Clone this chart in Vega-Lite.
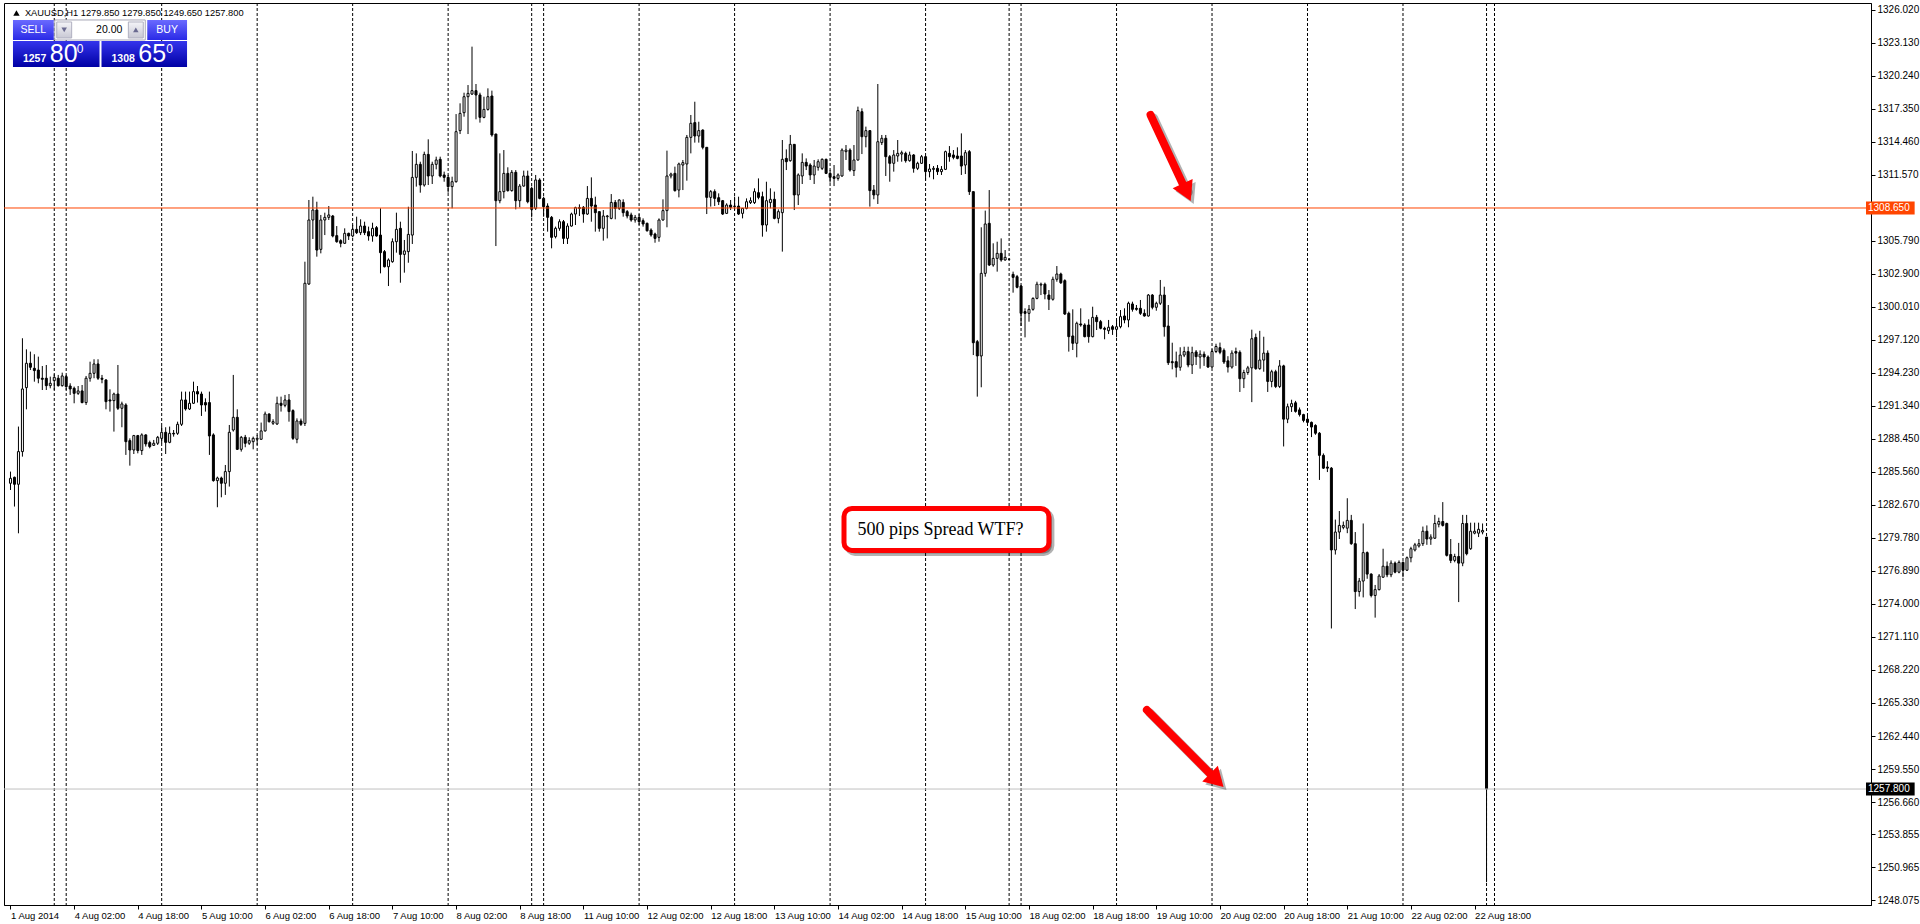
{
"$schema": "https://vega.github.io/schema/vega-lite/v6.json",
"width": 1867, "height": 902,
"autosize": {"type": "none"},
"padding": {"left": 4, "top": 3, "right": 49, "bottom": 19},
"background": "#ffffff",
"config": {"view": {"stroke": "#000000", "strokeWidth": 1}, "font": "Liberation Sans"},
"resolve": {"axis": {"x": "independent", "y": "independent"}},
"datasets": {
"seps": [{"s":11},{"s":14},{"s":38},{"s":62},{"s":86},{"s":110},{"s":131},{"s":134},{"s":158},{"s":182},{"s":206},{"s":230},{"s":251},{"s":254},{"s":278},{"s":302},{"s":326},{"s":350},{"s":371},{"s":373}],
"candles": [
{"i":0,"o":1284.56,"h":1285.58,"l":1283.97,"c":1284.99},
{"i":1,"o":1285.08,"h":1285.14,"l":1282.52,"c":1284.47},
{"i":2,"o":1284.47,"h":1289.52,"l":1280.18,"c":1287.33},
{"i":3,"o":1287.33,"h":1297.25,"l":1286.89,"c":1292.81},
{"i":4,"o":1292.93,"h":1296.28,"l":1291.03,"c":1295.06},
{"i":5,"o":1295.06,"h":1296.08,"l":1294.47,"c":1294.71},
{"i":6,"o":1294.62,"h":1295.85,"l":1293.45,"c":1294.42},
{"i":7,"o":1294.47,"h":1295.64,"l":1293.31,"c":1293.75},
{"i":8,"o":1293.75,"h":1294.82,"l":1292.72,"c":1293.66},
{"i":9,"o":1293.75,"h":1294.91,"l":1292.72,"c":1293.10},
{"i":10,"o":1293.10,"h":1293.89,"l":1292.87,"c":1293.31},
{"i":11,"o":1293.54,"h":1294.10,"l":1292.72,"c":1293.83},
{"i":12,"o":1293.75,"h":1294.04,"l":1293.02,"c":1293.10},
{"i":13,"o":1293.10,"h":1294.24,"l":1293.02,"c":1293.95},
{"i":14,"o":1293.89,"h":1294.04,"l":1292.72,"c":1293.02},
{"i":15,"o":1293.07,"h":1293.31,"l":1292.29,"c":1292.81},
{"i":16,"o":1292.87,"h":1293.02,"l":1291.56,"c":1292.43},
{"i":17,"o":1292.43,"h":1293.07,"l":1292.29,"c":1292.64},
{"i":18,"o":1292.64,"h":1293.16,"l":1291.56,"c":1291.62},
{"i":19,"o":1291.62,"h":1293.95,"l":1291.41,"c":1293.75},
{"i":20,"o":1293.75,"h":1295.20,"l":1293.45,"c":1294.18},
{"i":21,"o":1294.18,"h":1295.41,"l":1293.75,"c":1295.00},
{"i":22,"o":1295.00,"h":1295.41,"l":1293.60,"c":1293.75},
{"i":23,"o":1293.75,"h":1294.04,"l":1293.31,"c":1293.66},
{"i":24,"o":1293.60,"h":1293.66,"l":1291.03,"c":1291.70},
{"i":25,"o":1291.85,"h":1292.78,"l":1290.83,"c":1291.76},
{"i":26,"o":1291.79,"h":1292.49,"l":1289.08,"c":1292.37},
{"i":27,"o":1292.37,"h":1294.91,"l":1290.97,"c":1291.12},
{"i":28,"o":1291.12,"h":1291.70,"l":1289.46,"c":1291.50},
{"i":29,"o":1291.41,"h":1291.56,"l":1287.04,"c":1288.20},
{"i":30,"o":1288.29,"h":1288.49,"l":1286.10,"c":1287.47},
{"i":31,"o":1287.47,"h":1288.79,"l":1287.12,"c":1288.73},
{"i":32,"o":1288.73,"h":1288.79,"l":1287.18,"c":1287.42},
{"i":33,"o":1287.42,"h":1288.93,"l":1287.04,"c":1288.79},
{"i":34,"o":1288.79,"h":1288.84,"l":1287.77,"c":1288.00},
{"i":35,"o":1288.12,"h":1288.29,"l":1287.62,"c":1287.77},
{"i":36,"o":1287.88,"h":1288.35,"l":1287.82,"c":1288.06},
{"i":37,"o":1288.06,"h":1288.70,"l":1287.91,"c":1288.58},
{"i":38,"o":1288.49,"h":1289.57,"l":1288.06,"c":1289.02},
{"i":39,"o":1289.02,"h":1289.46,"l":1287.12,"c":1288.14},
{"i":40,"o":1288.14,"h":1289.52,"l":1288.06,"c":1288.93},
{"i":41,"o":1288.93,"h":1289.22,"l":1288.64,"c":1288.87},
{"i":42,"o":1288.93,"h":1289.95,"l":1288.79,"c":1289.72},
{"i":43,"o":1289.72,"h":1292.58,"l":1289.57,"c":1291.85},
{"i":44,"o":1291.85,"h":1292.58,"l":1290.92,"c":1291.06},
{"i":45,"o":1291.06,"h":1292.58,"l":1290.97,"c":1291.56},
{"i":46,"o":1291.56,"h":1293.45,"l":1291.50,"c":1292.58},
{"i":47,"o":1292.58,"h":1293.07,"l":1291.62,"c":1292.37},
{"i":48,"o":1292.37,"h":1292.58,"l":1290.45,"c":1291.41},
{"i":49,"o":1291.62,"h":1291.99,"l":1290.83,"c":1291.41},
{"i":50,"o":1291.62,"h":1292.58,"l":1287.04,"c":1288.70},
{"i":51,"o":1288.79,"h":1288.93,"l":1284.70,"c":1284.79},
{"i":52,"o":1284.79,"h":1285.14,"l":1282.46,"c":1285.02},
{"i":53,"o":1285.02,"h":1285.14,"l":1283.33,"c":1284.56},
{"i":54,"o":1284.56,"h":1286.16,"l":1283.54,"c":1285.58},
{"i":55,"o":1285.58,"h":1289.66,"l":1284.27,"c":1289.02},
{"i":56,"o":1289.22,"h":1294.04,"l":1289.08,"c":1290.33},
{"i":57,"o":1290.33,"h":1291.03,"l":1287.47,"c":1287.53},
{"i":58,"o":1287.53,"h":1288.70,"l":1287.33,"c":1288.58},
{"i":59,"o":1288.58,"h":1288.79,"l":1287.71,"c":1288.06},
{"i":60,"o":1288.06,"h":1288.58,"l":1287.91,"c":1288.29},
{"i":61,"o":1288.20,"h":1288.64,"l":1287.53,"c":1288.49},
{"i":62,"o":1288.41,"h":1288.79,"l":1287.91,"c":1288.49},
{"i":63,"o":1288.41,"h":1289.87,"l":1288.35,"c":1289.14},
{"i":64,"o":1289.14,"h":1290.83,"l":1289.08,"c":1290.62},
{"i":65,"o":1290.62,"h":1290.68,"l":1289.87,"c":1289.95},
{"i":66,"o":1289.81,"h":1290.16,"l":1289.66,"c":1289.95},
{"i":67,"o":1289.75,"h":1292.14,"l":1289.66,"c":1291.56},
{"i":68,"o":1291.56,"h":1292.14,"l":1290.83,"c":1291.38},
{"i":69,"o":1291.38,"h":1292.29,"l":1291.21,"c":1291.85},
{"i":70,"o":1291.85,"h":1292.37,"l":1289.95,"c":1290.83},
{"i":71,"o":1290.92,"h":1291.03,"l":1288.35,"c":1288.49},
{"i":72,"o":1288.41,"h":1290.24,"l":1288.06,"c":1290.01},
{"i":73,"o":1290.01,"h":1290.22,"l":1289.57,"c":1289.72},
{"i":74,"o":1289.80,"h":1303.95,"l":1289.57,"c":1302.06},
{"i":75,"o":1302.00,"h":1309.35,"l":1301.91,"c":1307.60},
{"i":76,"o":1307.60,"h":1309.64,"l":1305.94,"c":1308.47},
{"i":77,"o":1308.47,"h":1309.20,"l":1304.39,"c":1304.97},
{"i":78,"o":1305.03,"h":1308.04,"l":1304.68,"c":1307.60},
{"i":79,"o":1307.60,"h":1308.24,"l":1306.28,"c":1307.83},
{"i":80,"o":1307.83,"h":1308.82,"l":1307.60,"c":1308.04},
{"i":81,"o":1307.95,"h":1308.04,"l":1306.08,"c":1306.20},
{"i":82,"o":1306.23,"h":1307.07,"l":1305.61,"c":1305.70},
{"i":83,"o":1305.79,"h":1305.91,"l":1305.21,"c":1305.56},
{"i":84,"o":1305.56,"h":1306.87,"l":1305.50,"c":1306.43},
{"i":85,"o":1306.43,"h":1306.49,"l":1305.85,"c":1306.20},
{"i":86,"o":1306.20,"h":1307.16,"l":1306.08,"c":1306.78},
{"i":87,"o":1306.78,"h":1307.89,"l":1306.37,"c":1306.49},
{"i":88,"o":1306.49,"h":1307.66,"l":1306.28,"c":1307.07},
{"i":89,"o":1307.07,"h":1307.45,"l":1306.28,"c":1306.49},
{"i":90,"o":1306.58,"h":1307.02,"l":1305.79,"c":1306.20},
{"i":91,"o":1306.20,"h":1307.36,"l":1305.70,"c":1306.87},
{"i":92,"o":1306.93,"h":1307.07,"l":1306.14,"c":1306.20},
{"i":93,"o":1306.28,"h":1308.62,"l":1302.93,"c":1304.74},
{"i":94,"o":1304.83,"h":1304.97,"l":1303.45,"c":1303.51},
{"i":95,"o":1303.51,"h":1304.24,"l":1301.82,"c":1304.10},
{"i":96,"o":1303.95,"h":1305.99,"l":1303.86,"c":1305.70},
{"i":97,"o":1305.70,"h":1308.24,"l":1304.74,"c":1306.78},
{"i":98,"o":1306.87,"h":1307.45,"l":1302.11,"c":1304.59},
{"i":99,"o":1304.59,"h":1305.85,"l":1302.99,"c":1304.89},
{"i":100,"o":1304.83,"h":1308.76,"l":1303.86,"c":1306.34},
{"i":101,"o":1306.28,"h":1313.64,"l":1305.50,"c":1311.33},
{"i":102,"o":1311.33,"h":1313.43,"l":1310.52,"c":1312.47},
{"i":103,"o":1312.47,"h":1312.70,"l":1309.99,"c":1310.66},
{"i":104,"o":1310.66,"h":1313.58,"l":1310.52,"c":1313.34},
{"i":105,"o":1313.34,"h":1314.66,"l":1310.66,"c":1311.45},
{"i":106,"o":1311.45,"h":1312.70,"l":1310.75,"c":1312.47},
{"i":107,"o":1312.47,"h":1313.14,"l":1312.03,"c":1312.85},
{"i":108,"o":1312.91,"h":1313.14,"l":1311.33,"c":1311.45},
{"i":109,"o":1311.54,"h":1311.83,"l":1310.95,"c":1311.33},
{"i":110,"o":1311.33,"h":1311.54,"l":1309.99,"c":1310.52},
{"i":111,"o":1310.52,"h":1311.39,"l":1308.62,"c":1310.95},
{"i":112,"o":1310.95,"h":1316.87,"l":1310.87,"c":1315.33},
{"i":113,"o":1315.42,"h":1317.81,"l":1315.12,"c":1316.93},
{"i":114,"o":1316.99,"h":1318.74,"l":1316.64,"c":1318.39},
{"i":115,"o":1318.39,"h":1319.41,"l":1315.12,"c":1318.68},
{"i":116,"o":1318.62,"h":1322.77,"l":1318.55,"c":1318.92},
{"i":117,"o":1318.92,"h":1319.50,"l":1316.41,"c":1318.54},
{"i":118,"o":1318.54,"h":1318.74,"l":1316.12,"c":1316.58},
{"i":119,"o":1316.58,"h":1318.39,"l":1316.50,"c":1317.28},
{"i":120,"o":1317.28,"h":1319.12,"l":1317.17,"c":1318.39},
{"i":121,"o":1318.45,"h":1318.92,"l":1314.89,"c":1315.04},
{"i":122,"o":1315.12,"h":1315.15,"l":1305.32,"c":1309.29},
{"i":123,"o":1309.29,"h":1313.43,"l":1309.06,"c":1310.08},
{"i":124,"o":1310.08,"h":1313.72,"l":1309.49,"c":1311.68},
{"i":125,"o":1311.68,"h":1312.21,"l":1310.08,"c":1310.17},
{"i":126,"o":1310.17,"h":1311.97,"l":1310.08,"c":1311.77},
{"i":127,"o":1311.77,"h":1311.97,"l":1308.53,"c":1309.29},
{"i":128,"o":1309.29,"h":1310.75,"l":1308.71,"c":1310.57},
{"i":129,"o":1310.57,"h":1311.92,"l":1310.52,"c":1311.45},
{"i":130,"o":1311.45,"h":1311.92,"l":1309.06,"c":1309.20},
{"i":131,"o":1310.37,"h":1310.52,"l":1307.83,"c":1308.53},
{"i":132,"o":1308.62,"h":1311.54,"l":1308.47,"c":1311.10},
{"i":133,"o":1311.10,"h":1311.25,"l":1309.41,"c":1309.49},
{"i":134,"o":1309.49,"h":1309.64,"l":1307.89,"c":1308.76},
{"i":135,"o":1308.82,"h":1309.06,"l":1306.58,"c":1307.83},
{"i":136,"o":1307.83,"h":1307.95,"l":1305.12,"c":1306.08},
{"i":137,"o":1306.14,"h":1307.02,"l":1305.99,"c":1306.87},
{"i":138,"o":1306.87,"h":1307.66,"l":1306.66,"c":1307.45},
{"i":139,"o":1307.45,"h":1307.60,"l":1305.50,"c":1305.99},
{"i":140,"o":1305.99,"h":1307.31,"l":1305.50,"c":1307.07},
{"i":141,"o":1307.07,"h":1308.24,"l":1307.02,"c":1308.12},
{"i":142,"o":1308.12,"h":1308.76,"l":1307.16,"c":1308.68},
{"i":143,"o":1308.68,"h":1308.97,"l":1307.95,"c":1308.62},
{"i":144,"o":1308.71,"h":1308.82,"l":1307.36,"c":1308.12},
{"i":145,"o":1308.12,"h":1310.57,"l":1308.04,"c":1309.49},
{"i":146,"o":1309.49,"h":1311.33,"l":1307.45,"c":1308.82},
{"i":147,"o":1308.91,"h":1309.64,"l":1306.58,"c":1308.24},
{"i":148,"o":1308.33,"h":1308.33,"l":1306.58,"c":1306.87},
{"i":149,"o":1306.87,"h":1308.47,"l":1305.79,"c":1307.95},
{"i":150,"o":1307.89,"h":1308.04,"l":1305.99,"c":1307.95},
{"i":151,"o":1307.74,"h":1309.87,"l":1307.66,"c":1309.14},
{"i":152,"o":1309.14,"h":1309.35,"l":1307.66,"c":1308.62},
{"i":153,"o":1308.62,"h":1309.41,"l":1308.47,"c":1309.35},
{"i":154,"o":1309.14,"h":1309.41,"l":1307.89,"c":1308.24},
{"i":155,"o":1308.33,"h":1308.47,"l":1307.74,"c":1307.95},
{"i":156,"o":1308.04,"h":1308.24,"l":1307.45,"c":1307.60},
{"i":157,"o":1307.60,"h":1308.04,"l":1307.37,"c":1307.83},
{"i":158,"o":1307.83,"h":1308.12,"l":1307.16,"c":1307.45},
{"i":159,"o":1307.54,"h":1307.74,"l":1307.02,"c":1307.25},
{"i":160,"o":1307.31,"h":1307.37,"l":1306.58,"c":1306.66},
{"i":161,"o":1306.72,"h":1306.87,"l":1306.14,"c":1306.29},
{"i":162,"o":1306.37,"h":1306.49,"l":1305.61,"c":1305.99},
{"i":163,"o":1306.08,"h":1307.74,"l":1305.70,"c":1307.60},
{"i":164,"o":1307.60,"h":1309.41,"l":1307.54,"c":1308.42},
{"i":165,"o":1308.42,"h":1313.67,"l":1306.96,"c":1311.45},
{"i":166,"o":1311.45,"h":1311.74,"l":1311.24,"c":1311.62},
{"i":167,"o":1311.68,"h":1312.27,"l":1310.08,"c":1310.17},
{"i":168,"o":1310.22,"h":1312.62,"l":1309.58,"c":1312.50},
{"i":169,"o":1312.41,"h":1312.85,"l":1310.22,"c":1312.62},
{"i":170,"o":1312.50,"h":1315.04,"l":1311.04,"c":1314.83},
{"i":171,"o":1314.83,"h":1316.79,"l":1313.43,"c":1316.06},
{"i":172,"o":1316.12,"h":1317.95,"l":1314.37,"c":1314.95},
{"i":173,"o":1314.95,"h":1316.20,"l":1314.37,"c":1315.42},
{"i":174,"o":1315.47,"h":1315.53,"l":1313.78,"c":1313.96},
{"i":175,"o":1313.96,"h":1313.96,"l":1308.12,"c":1309.58},
{"i":176,"o":1309.58,"h":1310.22,"l":1308.77,"c":1310.08},
{"i":177,"o":1310.08,"h":1310.28,"l":1308.82,"c":1309.49},
{"i":178,"o":1309.55,"h":1309.93,"l":1308.91,"c":1309.20},
{"i":179,"o":1309.29,"h":1309.35,"l":1308.04,"c":1308.12},
{"i":180,"o":1308.18,"h":1309.06,"l":1308.12,"c":1308.91},
{"i":181,"o":1308.91,"h":1309.35,"l":1308.47,"c":1308.71},
{"i":182,"o":1308.77,"h":1309.64,"l":1308.47,"c":1308.82},
{"i":183,"o":1308.82,"h":1309.64,"l":1308.04,"c":1308.12},
{"i":184,"o":1308.18,"h":1308.62,"l":1307.74,"c":1308.62},
{"i":185,"o":1308.62,"h":1309.49,"l":1308.53,"c":1309.20},
{"i":186,"o":1309.12,"h":1309.58,"l":1309.00,"c":1309.29},
{"i":187,"o":1309.12,"h":1310.37,"l":1309.00,"c":1310.08},
{"i":188,"o":1309.99,"h":1311.24,"l":1309.41,"c":1309.58},
{"i":189,"o":1309.64,"h":1310.08,"l":1306.14,"c":1307.16},
{"i":190,"o":1307.16,"h":1310.95,"l":1306.58,"c":1309.29},
{"i":191,"o":1309.12,"h":1310.37,"l":1308.62,"c":1309.41},
{"i":192,"o":1309.41,"h":1310.08,"l":1307.66,"c":1307.74},
{"i":193,"o":1307.74,"h":1308.53,"l":1307.31,"c":1308.33},
{"i":194,"o":1308.24,"h":1314.60,"l":1304.83,"c":1312.91},
{"i":195,"o":1312.99,"h":1313.78,"l":1311.97,"c":1312.70},
{"i":196,"o":1312.79,"h":1315.04,"l":1312.70,"c":1314.22},
{"i":197,"o":1314.22,"h":1314.22,"l":1308.47,"c":1309.79},
{"i":198,"o":1309.79,"h":1311.68,"l":1308.91,"c":1311.54},
{"i":199,"o":1311.45,"h":1313.43,"l":1310.75,"c":1312.64},
{"i":200,"o":1312.64,"h":1312.99,"l":1311.97,"c":1312.32},
{"i":201,"o":1312.41,"h":1312.56,"l":1311.10,"c":1311.54},
{"i":202,"o":1311.54,"h":1312.85,"l":1310.75,"c":1312.32},
{"i":203,"o":1312.21,"h":1312.91,"l":1311.92,"c":1312.70},
{"i":204,"o":1312.12,"h":1312.99,"l":1311.97,"c":1312.91},
{"i":205,"o":1312.91,"h":1312.97,"l":1311.62,"c":1311.68},
{"i":206,"o":1311.68,"h":1311.97,"l":1310.87,"c":1311.33},
{"i":207,"o":1311.39,"h":1312.41,"l":1310.57,"c":1311.24},
{"i":208,"o":1311.24,"h":1311.68,"l":1311.04,"c":1311.54},
{"i":209,"o":1311.45,"h":1313.87,"l":1311.39,"c":1313.72},
{"i":210,"o":1313.58,"h":1314.16,"l":1312.85,"c":1313.72},
{"i":211,"o":1313.72,"h":1313.87,"l":1311.83,"c":1311.97},
{"i":212,"o":1311.92,"h":1314.16,"l":1311.45,"c":1312.85},
{"i":213,"o":1312.85,"h":1317.52,"l":1312.79,"c":1317.17},
{"i":214,"o":1317.08,"h":1317.37,"l":1313.37,"c":1314.89},
{"i":215,"o":1314.89,"h":1315.77,"l":1313.96,"c":1315.42},
{"i":216,"o":1315.42,"h":1315.47,"l":1308.77,"c":1310.17},
{"i":217,"o":1310.22,"h":1310.66,"l":1309.41,"c":1309.79},
{"i":218,"o":1309.79,"h":1319.50,"l":1309.00,"c":1314.45},
{"i":219,"o":1314.37,"h":1315.04,"l":1314.16,"c":1314.75},
{"i":220,"o":1314.75,"h":1315.04,"l":1311.45,"c":1313.14},
{"i":221,"o":1313.14,"h":1313.29,"l":1310.95,"c":1312.56},
{"i":222,"o":1312.56,"h":1313.72,"l":1311.83,"c":1313.29},
{"i":223,"o":1313.20,"h":1314.60,"l":1312.70,"c":1313.43},
{"i":224,"o":1313.37,"h":1313.67,"l":1312.70,"c":1313.49},
{"i":225,"o":1313.43,"h":1313.58,"l":1312.62,"c":1312.79},
{"i":226,"o":1312.79,"h":1313.58,"l":1312.70,"c":1313.29},
{"i":227,"o":1313.29,"h":1313.37,"l":1311.74,"c":1312.12},
{"i":228,"o":1312.12,"h":1312.70,"l":1311.97,"c":1312.56},
{"i":229,"o":1312.56,"h":1313.29,"l":1312.50,"c":1313.14},
{"i":230,"o":1313.14,"h":1313.20,"l":1311.04,"c":1311.83},
{"i":231,"o":1311.83,"h":1312.50,"l":1311.33,"c":1312.06},
{"i":232,"o":1312.03,"h":1312.32,"l":1311.16,"c":1312.12},
{"i":233,"o":1312.12,"h":1312.41,"l":1311.54,"c":1311.83},
{"i":234,"o":1311.83,"h":1312.32,"l":1311.54,"c":1312.03},
{"i":235,"o":1312.03,"h":1313.67,"l":1311.97,"c":1313.58},
{"i":236,"o":1313.43,"h":1314.07,"l":1312.70,"c":1313.14},
{"i":237,"o":1313.29,"h":1313.72,"l":1312.91,"c":1313.08},
{"i":238,"o":1313.20,"h":1313.96,"l":1312.91,"c":1312.99},
{"i":239,"o":1313.20,"h":1315.18,"l":1311.54,"c":1312.32},
{"i":240,"o":1312.41,"h":1313.72,"l":1311.62,"c":1313.49},
{"i":241,"o":1313.58,"h":1313.72,"l":1309.79,"c":1310.08},
{"i":242,"o":1310.08,"h":1310.08,"l":1295.78,"c":1296.86},
{"i":243,"o":1296.95,"h":1297.10,"l":1292.14,"c":1295.70},
{"i":244,"o":1295.70,"h":1306.96,"l":1292.96,"c":1302.93},
{"i":245,"o":1302.93,"h":1308.42,"l":1302.64,"c":1307.25},
{"i":246,"o":1307.31,"h":1310.22,"l":1303.57,"c":1303.66},
{"i":247,"o":1303.66,"h":1305.56,"l":1303.51,"c":1304.24},
{"i":248,"o":1304.24,"h":1305.70,"l":1303.08,"c":1304.68},
{"i":249,"o":1304.68,"h":1305.99,"l":1303.95,"c":1304.10},
{"i":250,"o":1304.10,"h":1304.97,"l":1304.04,"c":1304.33},
{"i":251,"o":1304.16,"h":1304.25,"l":1304.10,"c":1304.16},
{"i":252,"o":1302.84,"h":1303.08,"l":1301.24,"c":1302.58},
{"i":253,"o":1302.64,"h":1302.79,"l":1301.62,"c":1301.71},
{"i":254,"o":1301.82,"h":1301.91,"l":1298.32,"c":1299.43},
{"i":255,"o":1299.58,"h":1299.87,"l":1297.33,"c":1299.43},
{"i":256,"o":1299.43,"h":1300.16,"l":1298.70,"c":1299.78},
{"i":257,"o":1299.78,"h":1300.83,"l":1299.66,"c":1300.74},
{"i":258,"o":1300.74,"h":1302.20,"l":1300.66,"c":1301.98},
{"i":259,"o":1301.91,"h":1302.12,"l":1301.03,"c":1301.98},
{"i":260,"o":1301.98,"h":1302.12,"l":1300.66,"c":1301.12},
{"i":261,"o":1301.03,"h":1301.47,"l":1299.72,"c":1300.66},
{"i":262,"o":1300.66,"h":1302.64,"l":1300.54,"c":1302.41},
{"i":263,"o":1302.41,"h":1303.57,"l":1302.20,"c":1302.87},
{"i":264,"o":1302.87,"h":1302.99,"l":1302.00,"c":1302.11},
{"i":265,"o":1302.29,"h":1302.41,"l":1299.29,"c":1299.37},
{"i":266,"o":1299.43,"h":1299.58,"l":1296.08,"c":1297.39},
{"i":267,"o":1297.45,"h":1299.78,"l":1296.22,"c":1296.81},
{"i":268,"o":1296.81,"h":1298.70,"l":1295.58,"c":1298.56},
{"i":269,"o":1298.50,"h":1299.87,"l":1298.26,"c":1298.41},
{"i":270,"o":1298.41,"h":1298.56,"l":1297.33,"c":1297.39},
{"i":271,"o":1298.41,"h":1298.91,"l":1296.86,"c":1297.39},
{"i":272,"o":1297.39,"h":1300.01,"l":1297.33,"c":1299.08},
{"i":273,"o":1299.08,"h":1299.29,"l":1297.97,"c":1298.70},
{"i":274,"o":1298.70,"h":1298.85,"l":1298.03,"c":1298.12},
{"i":275,"o":1298.12,"h":1298.26,"l":1297.16,"c":1298.03},
{"i":276,"o":1297.91,"h":1298.85,"l":1297.62,"c":1298.21},
{"i":277,"o":1298.26,"h":1298.41,"l":1297.54,"c":1298.03},
{"i":278,"o":1298.03,"h":1298.85,"l":1297.33,"c":1298.26},
{"i":279,"o":1298.26,"h":1299.72,"l":1298.12,"c":1299.14},
{"i":280,"o":1299.20,"h":1299.87,"l":1298.56,"c":1298.85},
{"i":281,"o":1298.85,"h":1300.45,"l":1298.21,"c":1300.31},
{"i":282,"o":1300.25,"h":1300.45,"l":1299.58,"c":1299.78},
{"i":283,"o":1299.87,"h":1300.16,"l":1299.66,"c":1299.78},
{"i":284,"o":1299.87,"h":1300.60,"l":1299.29,"c":1299.43},
{"i":285,"o":1299.43,"h":1299.78,"l":1299.14,"c":1299.20},
{"i":286,"o":1299.20,"h":1301.12,"l":1299.14,"c":1301.03},
{"i":287,"o":1301.03,"h":1301.12,"l":1299.78,"c":1299.96},
{"i":288,"o":1299.96,"h":1300.45,"l":1299.66,"c":1300.31},
{"i":289,"o":1300.31,"h":1302.35,"l":1300.16,"c":1301.03},
{"i":290,"o":1301.03,"h":1301.76,"l":1297.39,"c":1298.26},
{"i":291,"o":1298.32,"h":1300.16,"l":1294.91,"c":1295.11},
{"i":292,"o":1295.20,"h":1296.86,"l":1294.53,"c":1295.11},
{"i":293,"o":1295.20,"h":1296.08,"l":1293.83,"c":1294.71},
{"i":294,"o":1294.71,"h":1296.46,"l":1294.41,"c":1295.78},
{"i":295,"o":1295.78,"h":1296.51,"l":1295.60,"c":1296.08},
{"i":296,"o":1296.08,"h":1296.51,"l":1294.71,"c":1294.91},
{"i":297,"o":1294.91,"h":1296.51,"l":1294.12,"c":1295.99},
{"i":298,"o":1296.05,"h":1296.22,"l":1294.91,"c":1295.64},
{"i":299,"o":1295.61,"h":1296.19,"l":1294.59,"c":1295.85},
{"i":300,"o":1295.85,"h":1296.09,"l":1294.83,"c":1295.61},
{"i":301,"o":1295.61,"h":1295.75,"l":1294.66,"c":1294.73},
{"i":302,"o":1294.73,"h":1296.29,"l":1294.66,"c":1296.09},
{"i":303,"o":1296.09,"h":1296.77,"l":1295.95,"c":1296.53},
{"i":304,"o":1296.43,"h":1296.87,"l":1295.85,"c":1296.02},
{"i":305,"o":1296.19,"h":1296.36,"l":1295.00,"c":1295.17},
{"i":306,"o":1295.27,"h":1295.68,"l":1294.25,"c":1294.73},
{"i":307,"o":1294.73,"h":1296.19,"l":1294.59,"c":1295.95},
{"i":308,"o":1296.09,"h":1296.43,"l":1294.83,"c":1295.95},
{"i":309,"o":1296.02,"h":1296.19,"l":1292.55,"c":1293.71},
{"i":310,"o":1293.71,"h":1294.49,"l":1292.89,"c":1294.25},
{"i":311,"o":1294.25,"h":1294.83,"l":1294.05,"c":1294.66},
{"i":312,"o":1294.66,"h":1298.00,"l":1291.66,"c":1297.21},
{"i":313,"o":1297.32,"h":1297.66,"l":1294.49,"c":1294.59},
{"i":314,"o":1294.59,"h":1297.90,"l":1294.49,"c":1295.34},
{"i":315,"o":1295.34,"h":1297.38,"l":1294.32,"c":1295.95},
{"i":316,"o":1295.95,"h":1296.19,"l":1292.55,"c":1293.47},
{"i":317,"o":1293.47,"h":1294.49,"l":1292.96,"c":1294.32},
{"i":318,"o":1294.32,"h":1294.49,"l":1292.89,"c":1293.03},
{"i":319,"o":1293.03,"h":1295.34,"l":1292.89,"c":1294.83},
{"i":320,"o":1294.83,"h":1294.93,"l":1287.78,"c":1290.17},
{"i":321,"o":1290.17,"h":1291.53,"l":1289.82,"c":1291.26},
{"i":322,"o":1291.26,"h":1291.87,"l":1290.80,"c":1291.53},
{"i":323,"o":1291.60,"h":1291.77,"l":1290.74,"c":1290.85},
{"i":324,"o":1290.98,"h":1291.19,"l":1290.40,"c":1290.57},
{"i":325,"o":1290.57,"h":1290.64,"l":1289.89,"c":1290.06},
{"i":326,"o":1290.17,"h":1290.51,"l":1289.72,"c":1289.89},
{"i":327,"o":1289.89,"h":1289.96,"l":1288.60,"c":1289.48},
{"i":328,"o":1289.62,"h":1289.72,"l":1288.80,"c":1288.94},
{"i":329,"o":1288.94,"h":1289.04,"l":1284.85,"c":1287.00},
{"i":330,"o":1287.00,"h":1287.17,"l":1285.81,"c":1285.88},
{"i":331,"o":1285.98,"h":1286.49,"l":1285.54,"c":1285.88},
{"i":332,"o":1285.88,"h":1285.98,"l":1271.85,"c":1278.72},
{"i":333,"o":1278.72,"h":1281.38,"l":1278.32,"c":1280.29},
{"i":334,"o":1280.29,"h":1282.13,"l":1279.68,"c":1280.87},
{"i":335,"o":1280.70,"h":1281.21,"l":1280.53,"c":1280.87},
{"i":336,"o":1280.63,"h":1283.25,"l":1280.19,"c":1281.31},
{"i":337,"o":1281.31,"h":1281.79,"l":1279.17,"c":1279.27},
{"i":338,"o":1279.27,"h":1280.29,"l":1273.55,"c":1275.08},
{"i":339,"o":1275.08,"h":1276.27,"l":1274.64,"c":1276.00},
{"i":340,"o":1276.00,"h":1281.04,"l":1274.57,"c":1278.49},
{"i":341,"o":1278.49,"h":1278.59,"l":1276.20,"c":1276.61},
{"i":342,"o":1276.61,"h":1276.68,"l":1274.57,"c":1274.74},
{"i":343,"o":1274.74,"h":1275.66,"l":1272.80,"c":1275.25},
{"i":344,"o":1275.25,"h":1276.61,"l":1275.18,"c":1276.44},
{"i":345,"o":1276.34,"h":1278.83,"l":1276.27,"c":1277.30},
{"i":346,"o":1277.30,"h":1277.71,"l":1276.34,"c":1276.55},
{"i":347,"o":1276.55,"h":1277.81,"l":1276.34,"c":1277.57},
{"i":348,"o":1277.57,"h":1277.71,"l":1276.68,"c":1276.78},
{"i":349,"o":1276.78,"h":1277.81,"l":1276.68,"c":1277.64},
{"i":350,"o":1277.64,"h":1277.71,"l":1276.34,"c":1276.95},
{"i":351,"o":1276.95,"h":1278.15,"l":1276.88,"c":1278.04},
{"i":352,"o":1278.04,"h":1279.00,"l":1277.64,"c":1278.83},
{"i":353,"o":1278.72,"h":1279.34,"l":1278.59,"c":1279.17},
{"i":354,"o":1279.07,"h":1279.68,"l":1278.93,"c":1279.27},
{"i":355,"o":1279.27,"h":1280.77,"l":1279.07,"c":1280.36},
{"i":356,"o":1280.36,"h":1280.87,"l":1279.17,"c":1279.68},
{"i":357,"o":1279.68,"h":1280.09,"l":1279.17,"c":1279.85},
{"i":358,"o":1279.75,"h":1281.79,"l":1279.68,"c":1281.04},
{"i":359,"o":1280.97,"h":1281.55,"l":1280.70,"c":1281.21},
{"i":360,"o":1281.21,"h":1282.91,"l":1280.77,"c":1280.87},
{"i":361,"o":1281.04,"h":1281.11,"l":1278.15,"c":1278.25},
{"i":362,"o":1278.32,"h":1279.68,"l":1277.57,"c":1277.81},
{"i":363,"o":1277.81,"h":1278.39,"l":1277.64,"c":1278.15},
{"i":364,"o":1278.15,"h":1279.34,"l":1274.16,"c":1277.57},
{"i":365,"o":1277.57,"h":1281.79,"l":1277.30,"c":1281.04},
{"i":366,"o":1281.04,"h":1281.79,"l":1278.25,"c":1278.39},
{"i":367,"o":1278.83,"h":1281.11,"l":1278.73,"c":1280.36},
{"i":368,"o":1280.19,"h":1281.11,"l":1280.09,"c":1280.36},
{"i":369,"o":1280.19,"h":1281.11,"l":1279.85,"c":1280.53},
{"i":370,"o":1280.29,"h":1281.04,"l":1280.09,"c":1280.43},
{"i":371,"o":1279.85,"h":1279.85,"l":1249.65,"c":1257.80}
]
},
"layer": [
{"data": {"name": "seps"},
 "mark": {"type": "rule", "color": "#000000", "strokeWidth": 1, "strokeDash": [3, 2]},
 "encoding": {
  "x": {"field": "s", "type": "quantitative",
   "scale": {"domain": [-0.375, 466.375], "nice": false, "zero": false},
   "axis": {"values": [0,16,32,48,64,80,96,112,128,144,160,176,192,208,224,240,256,272,288,304,320,336,352,368],
    "labelExpr": "['1 Aug 2014','4 Aug 02:00','4 Aug 18:00','5 Aug 10:00','6 Aug 02:00','6 Aug 18:00','7 Aug 10:00','8 Aug 02:00','8 Aug 18:00','11 Aug 10:00','12 Aug 02:00','12 Aug 18:00','13 Aug 10:00','14 Aug 02:00','14 Aug 18:00','15 Aug 10:00','18 Aug 02:00','18 Aug 18:00','19 Aug 10:00','20 Aug 02:00','20 Aug 18:00','21 Aug 10:00','22 Aug 02:00','22 Aug 18:00'][round(datum.value / 16)]",
    "title": null, "grid": false, "domainColor": "#000000", "tickColor": "#000000", "tickSize": 4,
    "labelAlign": "left", "labelBaseline": "top", "labelPadding": 1, "labelDx": 0,
    "labelFont": "Liberation Sans", "labelFontSize": 9.5, "labelColor": "#000000",
    "labelOverlap": false, "labelFlush": false, "labelBound": false}}
 }},
{"data": {"name": "candles"},
 "mark": {"type": "rule", "color": "#000000", "strokeWidth": 1, "clip": true},
 "encoding": {
  "x": {"field": "i", "type": "quantitative", "axis": null},
  "y": {"field": "l", "type": "quantitative",
   "scale": {"domain": [1247.65, 1326.59], "nice": false, "zero": false},
   "axis": {"orient": "right",
    "values": [1326.02,1323.13,1320.24,1317.35,1314.46,1311.57,1305.79,1302.9,1300.01,1297.12,1294.23,1291.34,1288.45,1285.56,1282.67,1279.78,1276.89,1274.0,1271.11,1268.22,1265.33,1262.44,1259.55,1256.66,1253.855,1250.965,1248.075],
    "format": ".3f", "title": null, "grid": false, "domainColor": "#000000", "tickColor": "#000000", "tickSize": 4,
    "labelPadding": 2, "labelFont": "Liberation Sans", "labelFontSize": 10, "labelColor": "#000000",
    "labelBaseline": "middle", "labelOverlap": false, "labelFlush": false, "labelBound": false}},
  "y2": {"field": "h"}
 }},
{"data": {"name": "candles"},
 "mark": {"type": "bar", "width": 2, "stroke": "#000000", "strokeWidth": 1, "clip": true},
 "encoding": {
  "x": {"field": "i", "type": "quantitative", "axis": null},
  "y": {"field": "o", "type": "quantitative", "axis": null},
  "y2": {"field": "c"},
  "fill": {"condition": {"test": "datum.c < datum.o", "value": "#000000"}, "value": "#ffffff"}
 }},
{"data": {"values": [{}]},
 "mark": {"type": "rule", "color": "#ff4500", "strokeWidth": 1},
 "encoding": {"y": {"datum": 1308.65, "type": "quantitative", "axis": null}}},
{"data": {"values": [{}]},
 "mark": {"type": "rule", "color": "#c0c0c0", "strokeWidth": 1},
 "encoding": {"y": {"datum": 1257.8, "type": "quantitative", "axis": null}}},
{"data": {"values": [{}]},
 "mark": {"type": "rect", "fill": "#000000", "fillOpacity": 0.3, "stroke": "#000000", "strokeOpacity": 0.3, "strokeWidth": 5, "cornerRadius": 8, "xOffset": 3, "yOffset": 3, "x2Offset": 3, "y2Offset": 3},
 "encoding": {"x": {"datum": 209.5, "type": "quantitative", "axis": null}, "x2": {"datum": 261.0},
  "y": {"datum": 1282.35, "type": "quantitative", "axis": null}, "y2": {"datum": 1278.68}}},
{"data": {"values": [{}]},
 "mark": {"type": "rect", "fill": "#ffffff", "stroke": "#ff0000", "strokeWidth": 5, "cornerRadius": 8},
 "encoding": {"x": {"datum": 209.5, "type": "quantitative", "axis": null}, "x2": {"datum": 261.0},
  "y": {"datum": 1282.35, "type": "quantitative", "axis": null}, "y2": {"datum": 1278.68}}},
{"data": {"values": [{}]},
 "mark": {"type": "text", "text": "500 pips Spread WTF?", "font": "Liberation Serif", "fontSize": 18, "color": "#000000", "align": "center", "baseline": "middle"},
 "encoding": {"x": {"datum": 233.75, "type": "quantitative", "axis": null}, "y": {"datum": 1280.47, "type": "quantitative", "axis": null}}},
{"data": {"values": [{}]},
 "mark": {"type": "rule", "color": "#000000", "opacity": 0.3, "strokeWidth": 9, "strokeCap": "round", "xOffset": 3, "yOffset": 3, "x2Offset": 3, "y2Offset": 3},
 "encoding": {"x": {"datum": 286.55, "type": "quantitative", "axis": null}, "y": {"datum": 1316.79, "type": "quantitative", "axis": null}, "x2": {"datum": 295.25}, "y2": {"datum": 1310.30}}},
{"data": {"values": [{}]},
 "mark": {"type": "point", "shape": "triangle-up", "filled": true, "color": "#000000", "opacity": 0.3, "size": 484, "angle": 155, "xOffset": 3, "yOffset": 3},
 "encoding": {"x": {"datum": 295.63, "type": "quantitative", "axis": null}, "y": {"datum": 1310.02, "type": "quantitative", "axis": null}}},
{"data": {"values": [{}]},
 "mark": {"type": "rule", "color": "#ff0000", "strokeWidth": 8, "strokeCap": "round"},
 "encoding": {"x": {"datum": 286.55, "type": "quantitative", "axis": null}, "y": {"datum": 1316.79, "type": "quantitative", "axis": null}, "x2": {"datum": 295.25}, "y2": {"datum": 1310.30}}},
{"data": {"values": [{}]},
 "mark": {"type": "point", "shape": "triangle-up", "filled": true, "color": "#ff0000", "opacity": 1, "size": 484, "angle": 155},
 "encoding": {"x": {"datum": 295.63, "type": "quantitative", "axis": null}, "y": {"datum": 1310.02, "type": "quantitative", "axis": null}}},
{"data": {"values": [{}]},
 "mark": {"type": "rule", "color": "#000000", "opacity": 0.3, "strokeWidth": 9, "strokeCap": "round", "xOffset": 3, "yOffset": 3, "x2Offset": 3, "y2Offset": 3},
 "encoding": {"x": {"datum": 285.63, "type": "quantitative", "axis": null}, "y": {"datum": 1264.72, "type": "quantitative", "axis": null}, "x2": {"datum": 302.58}, "y2": {"datum": 1258.78}}},
{"data": {"values": [{}]},
 "mark": {"type": "point", "shape": "triangle-up", "filled": true, "color": "#000000", "opacity": 0.3, "size": 484, "angle": 135, "xOffset": 3, "yOffset": 3},
 "encoding": {"x": {"datum": 303.2, "type": "quantitative", "axis": null}, "y": {"datum": 1258.56, "type": "quantitative", "axis": null}}},
{"data": {"values": [{}]},
 "mark": {"type": "rule", "color": "#ff0000", "strokeWidth": 8, "strokeCap": "round"},
 "encoding": {"x": {"datum": 285.63, "type": "quantitative", "axis": null}, "y": {"datum": 1264.72, "type": "quantitative", "axis": null}, "x2": {"datum": 302.58}, "y2": {"datum": 1258.78}}},
{"data": {"values": [{}]},
 "mark": {"type": "point", "shape": "triangle-up", "filled": true, "color": "#ff0000", "opacity": 1, "size": 484, "angle": 135},
 "encoding": {"x": {"datum": 303.2, "type": "quantitative", "axis": null}, "y": {"datum": 1258.56, "type": "quantitative", "axis": null}}},
{"data": {"values": [{}]},
 "mark": {"type": "point", "shape": "triangle-up", "filled": true, "color": "#000000", "opacity": 1, "size": 40},
 "encoding": {"x": {"datum": 1.5, "type": "quantitative", "axis": null}, "y": {"datum": 1325.72, "type": "quantitative", "axis": null}}},
{"data": {"values": [{}]},
 "mark": {"type": "text", "text": "XAUUSD,H1  1279.850 1279.850 1249.650 1257.800", "font": "Liberation Sans", "fontSize": 9.3, "color": "#000000", "align": "left", "baseline": "middle"},
 "encoding": {"x": {"datum": 3.625, "type": "quantitative", "axis": null}, "y": {"datum": 1325.72, "type": "quantitative", "axis": null}}},
{"data": {"values": [{}]},
 "mark": {"type": "rect", "fill": {"gradient": "linear", "x1": 0, "y1": 0, "x2": 0, "y2": 1, "stops": [{"offset": 0, "color": "#6a6aff"}, {"offset": 1, "color": "#2a2ae6"}]}},
 "encoding": {"x": {"datum": 0.625, "type": "quantitative", "axis": null}, "x2": {"datum": 10.875}, "y": {"datum": 1325.104, "type": "quantitative", "axis": null}, "y2": {"datum": 1323.353}}},
{"data": {"values": [{}]},
 "mark": {"type": "rect", "fill": {"gradient": "linear", "x1": 0, "y1": 0, "x2": 0, "y2": 1, "stops": [{"offset": 0, "color": "#6a6aff"}, {"offset": 1, "color": "#2a2ae6"}]}},
 "encoding": {"x": {"datum": 34.375, "type": "quantitative", "axis": null}, "x2": {"datum": 44.375}, "y": {"datum": 1325.104, "type": "quantitative", "axis": null}, "y2": {"datum": 1323.353}}},
{"data": {"values": [{}]},
 "mark": {"type": "rect", "fill": "#ffffff", "stroke": "#a8a8b8", "strokeWidth": 1},
 "encoding": {"x": {"datum": 11.125, "type": "quantitative", "axis": null}, "x2": {"datum": 33.875}, "y": {"datum": 1325.104, "type": "quantitative", "axis": null}, "y2": {"datum": 1323.353}}},
{"data": {"values": [{}]},
 "mark": {"type": "rect", "fill": {"gradient": "linear", "x1": 0, "y1": 0, "x2": 0, "y2": 1, "stops": [{"offset": 0, "color": "#f4f4f8"}, {"offset": 1, "color": "#c8c8d4"}]}, "stroke": "#b0b0c0", "strokeWidth": 1},
 "encoding": {"x": {"datum": 11.625, "type": "quantitative", "axis": null}, "x2": {"datum": 15.375}, "y": {"datum": 1324.929, "type": "quantitative", "axis": null}, "y2": {"datum": 1323.528}}},
{"data": {"values": [{}]},
 "mark": {"type": "rect", "fill": {"gradient": "linear", "x1": 0, "y1": 0, "x2": 0, "y2": 1, "stops": [{"offset": 0, "color": "#f4f4f8"}, {"offset": 1, "color": "#c8c8d4"}]}, "stroke": "#b0b0c0", "strokeWidth": 1},
 "encoding": {"x": {"datum": 29.625, "type": "quantitative", "axis": null}, "x2": {"datum": 33.375}, "y": {"datum": 1324.929, "type": "quantitative", "axis": null}, "y2": {"datum": 1323.528}}},
{"data": {"values": [{}]},
 "mark": {"type": "point", "shape": "triangle-down", "filled": true, "color": "#6a6a90", "opacity": 1, "size": 30},
 "encoding": {"x": {"datum": 13.5, "type": "quantitative", "axis": null}, "y": {"datum": 1324.228, "type": "quantitative", "axis": null}}},
{"data": {"values": [{}]},
 "mark": {"type": "point", "shape": "triangle-up", "filled": true, "color": "#6a6a90", "opacity": 1, "size": 30},
 "encoding": {"x": {"datum": 31.5, "type": "quantitative", "axis": null}, "y": {"datum": 1324.228, "type": "quantitative", "axis": null}}},
{"data": {"values": [{}]},
 "mark": {"type": "rect", "fill": {"gradient": "linear", "x1": 0, "y1": 0, "x2": 0, "y2": 1, "stops": [{"offset": 0, "color": "#3434ec"}, {"offset": 1, "color": "#0000a4"}]}},
 "encoding": {"x": {"datum": 0.625, "type": "quantitative", "axis": null}, "x2": {"datum": 22.375}, "y": {"datum": 1323.266, "type": "quantitative", "axis": null}, "y2": {"datum": 1320.99}}},
{"data": {"values": [{}]},
 "mark": {"type": "rect", "fill": {"gradient": "linear", "x1": 0, "y1": 0, "x2": 0, "y2": 1, "stops": [{"offset": 0, "color": "#3434ec"}, {"offset": 1, "color": "#0000a4"}]}},
 "encoding": {"x": {"datum": 22.875, "type": "quantitative", "axis": null}, "x2": {"datum": 44.375}, "y": {"datum": 1323.266, "type": "quantitative", "axis": null}, "y2": {"datum": 1320.99}}},
{"data": {"values": [{}]},
 "mark": {"type": "text", "text": "SELL", "font": "Liberation Sans", "fontSize": 10.5, "color": "#ffffff", "align": "center", "baseline": "middle"},
 "encoding": {"x": {"datum": 5.75, "type": "quantitative", "axis": null}, "y": {"datum": 1324.228, "type": "quantitative", "axis": null}}},
{"data": {"values": [{}]},
 "mark": {"type": "text", "text": "BUY", "font": "Liberation Sans", "fontSize": 10.5, "color": "#ffffff", "align": "center", "baseline": "middle"},
 "encoding": {"x": {"datum": 39.375, "type": "quantitative", "axis": null}, "y": {"datum": 1324.228, "type": "quantitative", "axis": null}}},
{"data": {"values": [{}]},
 "mark": {"type": "text", "text": "20.00", "font": "Liberation Sans", "fontSize": 10.5, "color": "#000000", "align": "right", "baseline": "middle"},
 "encoding": {"x": {"datum": 28.125, "type": "quantitative", "axis": null}, "y": {"datum": 1324.228, "type": "quantitative", "axis": null}}},
{"data": {"values": [{}]},
 "mark": {"type": "text", "text": "1257", "font": "Liberation Sans", "fontSize": 10.5, "fontWeight": "bold", "color": "#ffffff", "align": "left", "baseline": "alphabetic"},
 "encoding": {"x": {"datum": 3.125, "type": "quantitative", "axis": null}, "y": {"datum": 1321.43, "type": "quantitative", "axis": null}}},
{"data": {"values": [{}]},
 "mark": {"type": "text", "text": "80", "font": "Liberation Sans", "fontSize": 25, "color": "#ffffff", "align": "left", "baseline": "alphabetic"},
 "encoding": {"x": {"datum": 9.875, "type": "quantitative", "axis": null}, "y": {"datum": 1321.43, "type": "quantitative", "axis": null}}},
{"data": {"values": [{}]},
 "mark": {"type": "text", "text": "0", "font": "Liberation Sans", "fontSize": 12, "color": "#ffffff", "align": "left", "baseline": "alphabetic"},
 "encoding": {"x": {"datum": 16.625, "type": "quantitative", "axis": null}, "y": {"datum": 1322.19, "type": "quantitative", "axis": null}}},
{"data": {"values": [{}]},
 "mark": {"type": "text", "text": "1308", "font": "Liberation Sans", "fontSize": 10.5, "fontWeight": "bold", "color": "#ffffff", "align": "left", "baseline": "alphabetic"},
 "encoding": {"x": {"datum": 25.375, "type": "quantitative", "axis": null}, "y": {"datum": 1321.43, "type": "quantitative", "axis": null}}},
{"data": {"values": [{}]},
 "mark": {"type": "text", "text": "65", "font": "Liberation Sans", "fontSize": 25, "color": "#ffffff", "align": "left", "baseline": "alphabetic"},
 "encoding": {"x": {"datum": 32.125, "type": "quantitative", "axis": null}, "y": {"datum": 1321.43, "type": "quantitative", "axis": null}}},
{"data": {"values": [{}]},
 "mark": {"type": "text", "text": "0", "font": "Liberation Sans", "fontSize": 12, "color": "#ffffff", "align": "left", "baseline": "alphabetic"},
 "encoding": {"x": {"datum": 39.125, "type": "quantitative", "axis": null}, "y": {"datum": 1322.19, "type": "quantitative", "axis": null}}},
{"data": {"values": [{}]},
 "mark": {"type": "rect", "fill": "#ff4500", "clip": false},
 "encoding": {"x": {"datum": 466.375, "type": "quantitative", "axis": null}, "x2": {"datum": 478.6}, "y": {"datum": 1309.22, "type": "quantitative", "axis": null}, "y2": {"datum": 1308.08}}},
{"data": {"values": [{}]},
 "mark": {"type": "text", "text": "1308.650", "font": "Liberation Sans", "fontSize": 10, "color": "#ffffff", "align": "left", "baseline": "middle", "clip": false},
 "encoding": {"x": {"datum": 466.875, "type": "quantitative", "axis": null}, "y": {"datum": 1308.65, "type": "quantitative", "axis": null}}},
{"data": {"values": [{}]},
 "mark": {"type": "rect", "fill": "#000000", "clip": false},
 "encoding": {"x": {"datum": 466.375, "type": "quantitative", "axis": null}, "x2": {"datum": 478.6}, "y": {"datum": 1258.37, "type": "quantitative", "axis": null}, "y2": {"datum": 1257.23}}},
{"data": {"values": [{}]},
 "mark": {"type": "text", "text": "1257.800", "font": "Liberation Sans", "fontSize": 10, "color": "#ffffff", "align": "left", "baseline": "middle", "clip": false},
 "encoding": {"x": {"datum": 466.875, "type": "quantitative", "axis": null}, "y": {"datum": 1257.8, "type": "quantitative", "axis": null}}}
]
}
